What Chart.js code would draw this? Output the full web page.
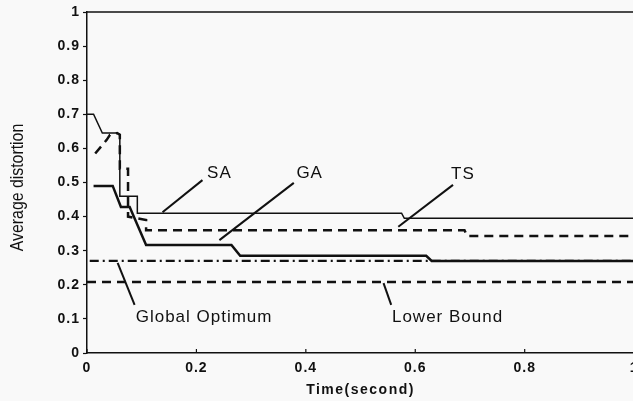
<!DOCTYPE html>
<html>
<head>
<meta charset="utf-8">
<script src="https://cdn.jsdelivr.net/npm/chart.js@4/dist/chart.umd.min.js"></script>
<style>
html,body{margin:0;padding:0;background:#f9f9f9;overflow:hidden;}
#wrap{width:645px;height:401px;}
</style>
</head>
<body>
<div id="wrap"><canvas id="c" width="645" height="401"></canvas></div>
<script>
// ---- data (time in seconds, average distortion) ----
const saTime = [0, 0.012, 0.028, 0.055, 0.06, 0.06, 0.092, 0.092, 0.575, 0.58, 1];
const saValue = [0.70, 0.70, 0.645, 0.645, 0.64, 0.46, 0.46, 0.41, 0.41, 0.395, 0.395];

const tsTime = [0.015, 0.036, 0.042, 0.055, 0.06, 0.06, 0.075, 0.075, 0.108, 0.108, 0.69, 0.695, 1];
const tsValue = [0.585, 0.625, 0.64, 0.645, 0.64, 0.54, 0.54, 0.40, 0.39, 0.36, 0.36, 0.343, 0.343];

const gaTime = [0.012, 0.047, 0.062, 0.078, 0.108, 0.264, 0.28, 0.62, 0.63, 1];
const gaValue = [0.49, 0.49, 0.428, 0.428, 0.317, 0.317, 0.285, 0.285, 0.27, 0.27];

const optTime = [0.005, 1];
const optValue = [0.27, 0.27];

const lbTime = [0, 1];
const lbValue = [0.208, 0.208];

const xTicks = [0, 0.2, 0.4, 0.6, 0.8, 1];
const yTicks = [0, 0.1, 0.2, 0.3, 0.4, 0.5, 0.6, 0.7, 0.8, 0.9, 1];

const xTitle = 'Time(second)';
const yTitle = 'Average distortion';

// annotation labels: [text, time, value]
const labelText = ["SA", "GA", "TS", "Global Optimum", "Lower Bound"];
const labelTime = [0.242, 0.407, 0.687, 0.214, 0.659];
const labelValue = [0.528, 0.528, 0.525, 0.106, 0.106];
// annotation pointer lines: from (t1,v1) to (t2,v2)
const ptrT1 = [0.211, 0.378, 0.669, 0.056, 0.542];
const ptrV1 = [0.507, 0.499, 0.493, 0.264, 0.205];
const ptrT2 = [0.138, 0.242, 0.569, 0.087, 0.556];
const ptrV2 = [0.413, 0.331, 0.370, 0.141, 0.141];

const pts = (t, v) => t.map((x, i) => ({x: x, y: v[i]}));
const INK = '#111';
const FONT = '"Liberation Sans", Arial, sans-serif';

const framePlugin = {
  id: 'frame',
  beforeDraw(chart) {
    const ctx = chart.ctx;
    ctx.save();
    ctx.fillStyle = '#f9f9f9';
    ctx.fillRect(0, 0, chart.width, chart.height);
    ctx.restore();
    ctx.letterSpacing = '1px';
  },
  afterDraw(chart) {
    const ctx = chart.ctx;
    const a = chart.chartArea;
    const xs = chart.scales.x, ys = chart.scales.y;
    ctx.save();
    ctx.strokeStyle = INK;
    ctx.lineWidth = 1.5;
    ctx.beginPath();
    ctx.moveTo(a.left, a.top); ctx.lineTo(a.right, a.top);
    ctx.stroke();
    // inward ticks on x axis
    ctx.lineWidth = 1.2;
    xTicks.forEach(t => {
      const px = xs.getPixelForValue(t);
      ctx.beginPath(); ctx.moveTo(px, a.bottom); ctx.lineTo(px, a.bottom - 4); ctx.stroke();
    });
    // pointer lines
    ctx.lineWidth = 2;
    for (let i = 0; i < ptrT1.length; i++) {
      ctx.beginPath();
      ctx.moveTo(xs.getPixelForValue(ptrT1[i]), ys.getPixelForValue(ptrV1[i]));
      ctx.lineTo(xs.getPixelForValue(ptrT2[i]), ys.getPixelForValue(ptrV2[i]));
      ctx.stroke();
    }
    // labels
    ctx.fillStyle = INK;
    ctx.font = '17px ' + FONT;
    ctx.letterSpacing = '1px';
    ctx.textBaseline = 'middle';
    ctx.textAlign = 'center';
    for (let i = 0; i < labelText.length; i++) {
      ctx.fillText(labelText[i], xs.getPixelForValue(labelTime[i]), ys.getPixelForValue(labelValue[i]));
    }
    // y-axis title (narrow)
    ctx.save();
    ctx.translate(18, (a.top + a.bottom) / 2 + 5);
    ctx.rotate(-Math.PI / 2);
    ctx.scale(0.88, 1);
    ctx.letterSpacing = '0px';
    ctx.font = '18px ' + FONT;
    ctx.fillText(yTitle, 0, 0);
    ctx.restore();
    // x-axis title
    ctx.letterSpacing = '1.5px';
    ctx.font = '600 14px ' + FONT;
    ctx.fillText(xTitle, (a.left + a.right) / 2 + 0, 390);
    ctx.restore();
  }
};

const fmt = v => String(Math.round(v * 10) / 10);

new Chart(document.getElementById('c'), {
  type: 'scatter',
  data: {
    datasets: [
      {label: 'SA', data: pts(saTime, saValue), showLine: true, borderColor: INK, borderWidth: 1.5, pointRadius: 0, fill: false, tension: 0},
      {label: 'TS', data: pts(tsTime, tsValue), showLine: true, borderColor: INK, borderWidth: 2.5, borderDash: [9, 6], pointRadius: 0, fill: false, tension: 0},
      {label: 'GA', data: pts(gaTime, gaValue), showLine: true, borderColor: INK, borderWidth: 2.5, pointRadius: 0, fill: false, tension: 0},
      {label: 'Global Optimum', data: pts(optTime, optValue), showLine: true, borderColor: INK, borderWidth: 2.2, borderDash: [9, 4, 2, 4], pointRadius: 0, fill: false},
      {label: 'Lower Bound', data: pts(lbTime, lbValue), showLine: true, borderColor: INK, borderWidth: 2.5, borderDash: [9, 6], pointRadius: 0, fill: false}
    ]
  },
  options: {
    responsive: false,
    animation: false,
    events: [],
    layout: {padding: {top: 12, right: 8, left: 0, bottom: 0}},
    plugins: {legend: {display: false}, tooltip: {enabled: false}},
    scales: {
      x: {
        type: 'linear', min: 0, max: 1,
        afterBuildTicks: s => { s.ticks = xTicks.map(v => ({value: v})); },
        afterFit: s => { s.height = 48; },
        border: {display: true, color: INK, width: 1.5},
        grid: {display: true, drawOnChartArea: false, drawTicks: false, color: INK},
        ticks: {color: INK, padding: 7, callback: fmt, font: {family: FONT, size: 14, weight: '600'}, maxRotation: 0},
        title: {display: false}
      },
      y: {
        type: 'linear', min: 0, max: 1,
        afterBuildTicks: s => { s.ticks = yTicks.map(v => ({value: v})); },
        afterFit: s => { s.width = 87; },
        border: {display: true, color: INK, width: 1.5},
        grid: {display: true, drawOnChartArea: false, drawTicks: true, tickLength: 4, color: INK, tickWidth: 1.2},
        ticks: {color: INK, padding: 3, callback: fmt, font: {family: FONT, size: 14, weight: '600'}},
        title: {display: false}
      }
    }
  },
  plugins: [framePlugin]
});
</script>
</body>
</html>
